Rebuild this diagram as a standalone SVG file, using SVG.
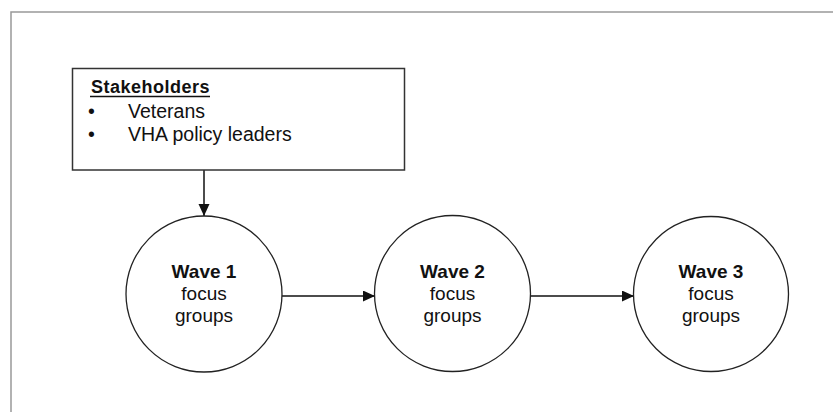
<svg xmlns="http://www.w3.org/2000/svg" width="833" height="412" viewBox="0 0 833 412">
<style>
.frame{fill:none;stroke:#999;stroke-width:1.5}
.box{fill:#fff;stroke:#333;stroke-width:1.5}
.circ{fill:#fff;stroke:#222;stroke-width:1.3}
.conn{stroke:#111;stroke-width:1.5;fill:none}
.t{font-family:"Liberation Sans",Arial,sans-serif;fill:#111}
.title{font-size:18px;font-weight:bold;letter-spacing:0.5px}
.item{font-size:19.5px}
.wave{font-size:19px;font-weight:bold;text-anchor:middle}
.sub{font-size:19px;text-anchor:middle}
</style>
<defs>
<marker id="arr" markerWidth="12" markerHeight="12" refX="12" refY="5.5" orient="auto" markerUnits="userSpaceOnUse">
<path d="M0,0 L12,5.5 L0,11 Z" fill="#111"/>
</marker>
</defs>
<rect width="833" height="412" fill="#fff"/>
<path class="frame" d="M11,420 L11,12 L840,12"/>
<g id="connectors">
<line class="conn" x1="204" y1="170" x2="204" y2="216" marker-end="url(#arr)"/>
<line class="conn" x1="282" y1="296" x2="375" y2="296" marker-end="url(#arr)"/>
<line class="conn" x1="530" y1="296" x2="634" y2="296" marker-end="url(#arr)"/>
</g>
<g id="stakeholders">
<rect class="box" x="72.5" y="68.5" width="332" height="101.5"/>
<text class="t title" x="91" y="93">Stakeholders</text>
<line x1="90" y1="96.5" x2="210" y2="96.5" stroke="#111" stroke-width="1.3"/>
<text class="t item" x="88" y="118">•</text>
<text class="t item" x="128" y="118">Veterans</text>
<text class="t item" x="88" y="141">•</text>
<text class="t item" x="128" y="141">VHA policy leaders</text>
</g>
<g id="wave1">
<circle class="circ" cx="204" cy="294" r="78"/>
<text class="t wave" x="204" y="278">Wave 1</text>
<text class="t sub" x="204" y="300">focus</text>
<text class="t sub" x="204" y="322">groups</text>
</g>
<g id="wave2">
<circle class="circ" cx="452.5" cy="293.5" r="78"/>
<text class="t wave" x="452.5" y="278">Wave 2</text>
<text class="t sub" x="452.5" y="300">focus</text>
<text class="t sub" x="452.5" y="322">groups</text>
</g>
<g id="wave3">
<circle class="circ" cx="711" cy="294" r="77.5"/>
<text class="t wave" x="711" y="278">Wave 3</text>
<text class="t sub" x="711" y="300">focus</text>
<text class="t sub" x="711" y="322">groups</text>
</g>
</svg>
